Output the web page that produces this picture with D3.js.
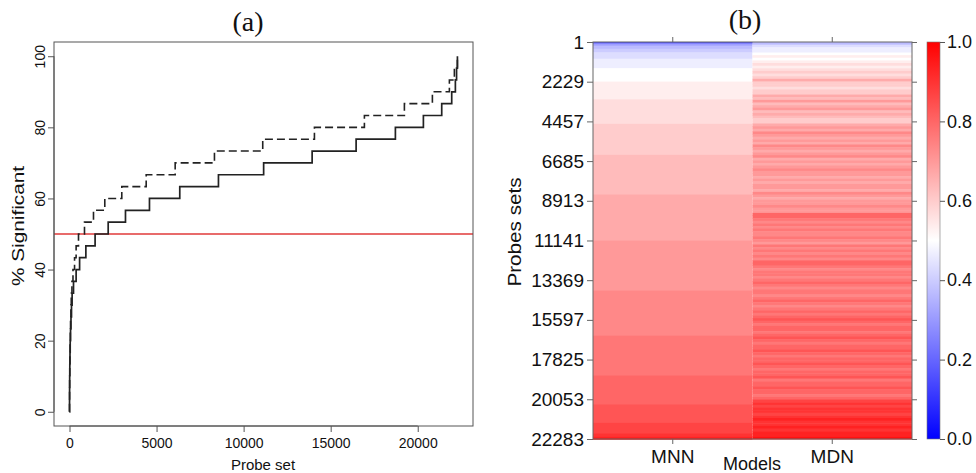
<!DOCTYPE html>
<html>
<head>
<meta charset="utf-8">
<script src="https://cdn.jsdelivr.net/npm/d3@7"></script>
<style>
  body { margin: 0; background: #fff; }
  text { font-family: "Liberation Sans", Arial, sans-serif; fill: #111; }
  .title { font-family: "Liberation Serif", "DejaVu Serif", serif; }
</style>
</head>
<body>
<svg id="chart" width="976" height="473"></svg>
<script>
// ---- data ----
var nProbes = 22283;
var nSamples = 30;
// probe set index at which the k-th sample (k = 1..30) becomes significant
var mnnSteps = [2, 5, 10, 18, 28, 40, 60, 85, 115, 150, 230, 380, 580, 940, 1470,
                2222, 3215, 4593, 6333, 8555, 11150, 13935, 16461, 18717, 20325,
                21378, 21952, 22162, 22230, 22280];
var mdnSteps = [2, 4, 8, 14, 22, 32, 45, 60, 80, 100, 140, 200, 290, 380, 517,
                861, 1378, 2027, 3003, 4404, 6069, 8325, 11098, 14067, 16937,
                19234, 20842, 21818, 22105, 22277];
var cutoff = 50;
var xTicksA = [0, 5000, 10000, 15000, 20000];
var yTicksA = [0, 20, 40, 60, 80, 100];

var probeTicks = [1, 2229, 4457, 6685, 8913, 11141, 13369, 15597, 17825, 20053, 22283];
var models = ["MNN", "MDN"];
// MDN significant counts (out of 30) per row block, probes ordered as in MNN
var mdnCounts = [11, 13, 14, 14, 15, 16, 15, 16, 17, 16, 17, 18, 17, 18, 20, 18, 18, 17, 18, 18,
                 20, 19, 21, 19, 20, 21, 19, 20, 19, 18, 18,
                 20, 21, 20, 22, 21, 20, 21, 20, 22, 21, 20, 21, 22, 20, 21, 20, 21, 22, 21,
                 21, 20, 21, 20, 21, 21, 20, 22, 21, 20, 21, 21, 22, 21, 21,
                 24, 24, 23,
                 22, 23, 22, 23, 22, 22, 23, 22, 21, 23, 22, 23, 22, 23, 22,
                 24, 24,
                 23, 22, 23, 23, 22, 23, 24, 23, 22, 23, 23, 22, 23, 24, 23, 22,
                 23, 24, 23, 24, 25, 24, 23, 24, 24, 23, 24, 25, 24, 23, 24, 24, 25, 24, 23, 24,
                 24, 25, 24, 23, 24, 24, 25, 23, 24, 24, 25, 24, 24, 23, 24,
                 26, 27, 26, 27, 27, 26, 27, 28, 27, 27, 28, 27, 28, 28, 29];
var colorTicks = [0, 0.2, 0.4, 0.6, 0.8, 1.0];

var svg = d3.select("#chart");

// ================= panel (a) =================
var ax = d3.scaleLinear().domain([1 - 0.04 * (nProbes - 1), nProbes + 0.04 * (nProbes - 1)]).range([54, 473]);
var ay = d3.scaleLinear().domain([-4, 104]).range([426, 42]);

var ga = svg.append("g");

function stepPoints(steps) {
  var pts = [[1, 0]];
  steps.forEach(function(s, i) { pts.push([s, (i + 1) / nSamples * 100]); });
  return pts;
}
var line = d3.line()
  .x(function(d) { return ax(d[0]); })
  .y(function(d) { return ay(d[1]); })
  .curve(d3.curveStepAfter);

ga.append("line")
  .attr("x1", 54).attr("x2", 473)
  .attr("y1", ay(cutoff)).attr("y2", ay(cutoff))
  .attr("stroke", "#e03a3a").attr("stroke-width", 1.6);

ga.append("path")
  .datum(stepPoints(mdnSteps))
  .attr("d", line)
  .attr("fill", "none")
  .attr("stroke", "#222")
  .attr("stroke-width", 1.6)
  .attr("stroke-dasharray", "8,4");

ga.append("path")
  .datum(stepPoints(mnnSteps))
  .attr("d", line)
  .attr("fill", "none")
  .attr("stroke", "#222")
  .attr("stroke-width", 1.7);

// box
ga.append("rect")
  .attr("x", 54).attr("y", 42).attr("width", 419).attr("height", 384)
  .attr("fill", "none").attr("stroke", "#555").attr("stroke-width", 1);

// x axis
var xa = ga.append("g").attr("transform", "translate(0,426)")
  .call(d3.axisBottom(ax).tickValues(xTicksA).tickSize(6).tickPadding(6).tickFormat(d3.format("d")));
xa.select(".domain").attr("d", "M" + ax(0) + ",0H" + ax(20000)).attr("stroke", "#555");
xa.selectAll(".tick line").attr("stroke", "#555");
xa.selectAll("text").style("font-size", "14px").attr("fill", "#111");

// y axis
var ya = ga.append("g").attr("transform", "translate(54,0)")
  .call(d3.axisLeft(ay).tickValues(yTicksA).tickSize(6).tickFormat(d3.format("d")));
ya.select(".domain").attr("d", "M0," + ay(0) + "V" + ay(100)).attr("stroke", "#555");
ya.selectAll(".tick line").attr("stroke", "#555");
ya.selectAll("text")
  .attr("x", 0).attr("dy", null)
  .attr("transform", "translate(-9,0) rotate(-90)")
  .style("text-anchor", "middle")
  .style("font-size", "14px").attr("fill", "#111");

ga.append("text")
  .attr("x", 263).attr("y", 470)
  .style("text-anchor", "middle").style("font-size", "15px")
  .text("Probe set");

ga.append("text")
  .attr("transform", "translate(24,226) rotate(-90) scale(1.3,1)")
  .style("text-anchor", "middle").style("font-size", "16px")
  .text("% Significant");

ga.append("text").attr("class", "title")
  .attr("x", 248).attr("y", 31)
  .style("text-anchor", "middle").style("font-size", "28px")
  .text("(a)");

// ================= panel (b) =================
var hx = d3.scaleBand().domain(models).range([593, 912]);
var hy = d3.scaleLinear().domain([1, nProbes]).range([42, 439]);
var color = d3.scaleLinear().domain([0, 0.5, 1]).range(["#0000ff", "#ffffff", "#ff0000"]);

var gb = svg.append("g");

// MNN column: bands from the step positions
var mnnBands = [];
for (var k = 0; k <= nSamples; k++) {
  var start = k === 0 ? 1 : mnnSteps[k - 1];
  var end = k === nSamples ? nProbes : mnnSteps[k];
  mnnBands.push({ y0: start, y1: end, v: k / nSamples });
}
gb.selectAll("rect.mnn")
  .data(mnnBands)
  .enter().append("rect")
  .attr("class", "mnn")
  .attr("x", hx("MNN"))
  .attr("width", hx.bandwidth())
  .attr("y", function(d) { return hy(d.y0); })
  .attr("height", function(d) { return Math.max(0, hy(d.y1) - hy(d.y0)) + 0.5; })
  .attr("fill", function(d) { return color(d.v); });

// MDN column
var rowSize = (nProbes - 1) / mdnCounts.length;
gb.selectAll("rect.mdn")
  .data(mdnCounts)
  .enter().append("rect")
  .attr("class", "mdn")
  .attr("x", hx("MDN"))
  .attr("width", hx.bandwidth())
  .attr("y", function(d, i) { return hy(1 + i * rowSize); })
  .attr("height", function(d, i) { return hy(1 + (i + 1) * rowSize) - hy(1 + i * rowSize) + 0.5; })
  .attr("fill", function(d) { return color(d / nSamples); });

gb.append("rect")
  .attr("x", 593).attr("y", 42).attr("width", 319).attr("height", 397)
  .attr("fill", "none").attr("stroke", "#666").attr("stroke-width", 1);

var yl = gb.append("g").attr("transform", "translate(593,0)")
  .call(d3.axisLeft(hy).tickValues(probeTicks).tickSize(6).tickPadding(3).tickFormat(d3.format("d")));
yl.select(".domain").remove();
yl.selectAll(".tick line").attr("stroke", "#666");
yl.selectAll("text").style("font-size", "19px").attr("fill", "#111");

var yr = gb.append("g").attr("transform", "translate(912,0)")
  .call(d3.axisRight(hy).tickValues(probeTicks).tickSize(5).tickFormat(""));
yr.select(".domain").remove();
yr.selectAll(".tick line").attr("stroke", "#666");

var xt = gb.append("g").attr("transform", "translate(0,42)")
  .call(d3.axisTop(hx).tickSize(5).tickFormat(""));
xt.select(".domain").remove();
xt.selectAll(".tick line").attr("stroke", "#666");

var xb = gb.append("g").attr("transform", "translate(0,439)")
  .call(d3.axisBottom(hx).tickSize(5).tickPadding(6));
xb.select(".domain").remove();
xb.selectAll(".tick line").attr("stroke", "#666");
xb.selectAll("text").style("font-size", "19px").attr("fill", "#111");

gb.append("text")
  .attr("x", 752).attr("y", 470)
  .style("text-anchor", "middle").style("font-size", "18px")
  .text("Models");

gb.append("text")
  .attr("transform", "translate(521,232) rotate(-90) scale(1.15,1)")
  .style("text-anchor", "middle").style("font-size", "18px")
  .text("Probes sets");

gb.append("text").attr("class", "title")
  .attr("x", 745).attr("y", 29)
  .style("text-anchor", "middle").style("font-size", "28px")
  .text("(b)");

// colour bar
var cy = d3.scaleLinear().domain([0, 1]).range([439, 42]);
var defs = svg.append("defs");
var grad = defs.append("linearGradient").attr("id", "cbar")
  .attr("x1", 0).attr("y1", 1).attr("x2", 0).attr("y2", 0);
[0, 0.5, 1].forEach(function(v) {
  grad.append("stop").attr("offset", v).attr("stop-color", color(v));
});
gb.append("rect")
  .attr("x", 927).attr("y", cy(1)).attr("width", 13).attr("height", cy(0) - cy(1))
  .attr("fill", "url(#cbar)").attr("stroke", "#777").attr("stroke-width", 0.6);

var ca = gb.append("g").attr("transform", "translate(940,0)")
  .call(d3.axisRight(cy).tickValues(colorTicks).tickSize(5).tickPadding(2).tickFormat(d3.format(".1f")));
ca.select(".domain").remove();
ca.selectAll(".tick line").attr("stroke", "#555");
ca.selectAll("text").style("font-size", "18px").attr("fill", "#111");
</script>
</body>
</html>
